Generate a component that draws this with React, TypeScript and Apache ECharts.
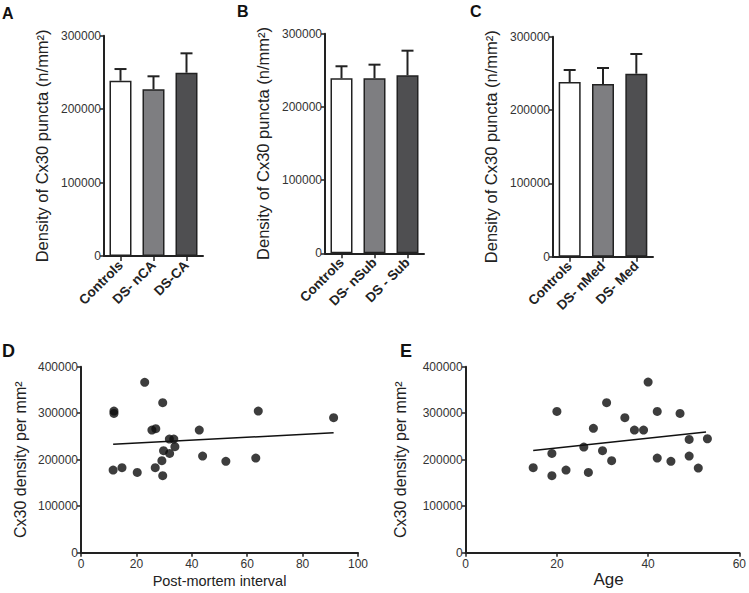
import React, { useEffect, useRef } from 'react';
import * as echarts from 'echarts';

const FONT = 'Liberation Sans, Arial, sans-serif';

// Bar panels
const catsA = ['Controls', 'DS- nCA', 'DS-CA'];
const catsB = ['Controls', 'DS- nSub', 'DS - Sub'];
const catsC = ['Controls', 'DS- nMed', 'DS- Med'];
const meanA = [238700, 227000, 249600];
const upperA = [254600, 244700, 276000];
const meanB = [239100, 239100, 243200];
const upperB = [255500, 257700, 276800];
const meanC = [238200, 235500, 249500];
const upperC = [254600, 257300, 276400];
const barColors = ['#ffffff', '#7e7e81', '#4f4f51'];

// Scatter panels
const pmiX = [11.6, 11.9, 11.9, 14.8, 20.3, 23.0, 25.6, 27.0, 26.8, 29.5, 29.2, 29.5, 29.8, 31.9, 32.0, 33.5, 33.9, 42.7, 43.9, 52.3, 63.1, 64.0, 91.2];
const pmiY = [177800, 304600, 299600, 182800, 172700, 366300, 263800, 266700, 182800, 322600, 197800, 165600, 219300, 244400, 213600, 244400, 227900, 263800, 207900, 196400, 203600, 304600, 290300];
const ageX = [14.8, 18.9, 18.9, 20.0, 22.0, 25.9, 26.9, 28.0, 30.0, 30.9, 32.0, 34.9, 37.0, 39.0, 40.0, 42.0, 42.0, 45.0, 47.0, 49.0, 49.0, 51.0, 53.0];
const ageY = [182800, 213600, 165600, 303900, 177800, 227200, 172700, 267400, 219300, 322600, 197800, 290300, 263800, 263800, 367000, 303900, 203600, 196400, 299600, 243700, 207900, 182100, 245100];
const pmiFitX = [11.6, 91.2];
const pmiFitY = [233000, 258000];
const ageFitX = [14.8, 52.7];
const ageFitY = [220000, 259500];

const INK = '#222222';
const LABEL = '#333333';
const plain = (v: number) => String(v);

function barYAxis(gridIndex: number) {
  return {
    type: 'value', gridIndex, min: 0, max: 300000, interval: 100000,
    name: 'Density of Cx30 puncta (n/mm\u00B2)', nameLocation: 'middle', nameGap: 54,
    nameTextStyle: { fontSize: 16.5, color: INK, fontFamily: FONT },
    axisLine: { show: true, lineStyle: { color: INK, width: 2 } },
    axisTick: { show: true, length: 4, lineStyle: { color: INK, width: 1.5 } },
    axisLabel: { fontSize: 12, color: LABEL, fontFamily: FONT, margin: 3, formatter: plain },
    splitLine: { show: false },
  };
}
function barXAxis(gridIndex: number, cats: string[]) {
  return {
    type: 'category', gridIndex, data: cats,
    axisLine: { show: true, lineStyle: { color: INK, width: 2 } },
    axisTick: { show: true, alignWithLabel: true, length: 5, lineStyle: { color: INK, width: 1.5 } },
    axisLabel: { rotate: 45, interval: 0, fontSize: 13.5, fontWeight: 'bold', color: INK, fontFamily: FONT, margin: 7 },
    splitLine: { show: false },
  };
}
function barSeries(idx: number, means: number[]) {
  return {
    type: 'bar', xAxisIndex: idx, yAxisIndex: idx, barWidth: 22,
    data: means.map((v, i) => ({ value: v, itemStyle: { color: barColors[i] } })),
    itemStyle: { borderColor: INK, borderWidth: 1.5 },
    z: 2,
  };
}
function errSeries(idx: number, means: number[], uppers: number[]) {
  return {
    type: 'custom', xAxisIndex: idx, yAxisIndex: idx, z: 3,
    encode: { x: 0, y: [1, 2] },
    data: means.map((m, i) => [i, m, uppers[i]]),
    renderItem: (_p: any, api: any) => {
      const base = api.coord([api.value(0), api.value(1)]);
      const top = api.coord([api.value(0), api.value(2)]);
      const hw = 6;
      return {
        type: 'group',
        children: [
          { type: 'line', shape: { x1: base[0], y1: base[1], x2: top[0], y2: top[1] }, style: { stroke: INK, lineWidth: 2 } },
          { type: 'line', shape: { x1: top[0] - hw, y1: top[1], x2: top[0] + hw, y2: top[1] }, style: { stroke: INK, lineWidth: 2 } },
        ],
      };
    },
  };
}
function scatYAxis(gridIndex: number, gap: number) {
  return {
    type: 'value', gridIndex, min: 0, max: 400000, interval: 100000,
    name: 'Cx30 density per mm\u00B2', nameLocation: 'middle', nameGap: gap,
    nameTextStyle: { fontSize: 16, color: INK, fontFamily: FONT },
    axisLine: { show: true, lineStyle: { color: INK, width: 2 } },
    axisTick: { show: true, length: 4, lineStyle: { color: INK, width: 1.5 } },
    axisLabel: { fontSize: 12, color: LABEL, fontFamily: FONT, margin: 3, formatter: plain },
    splitLine: { show: false },
  };
}
function scatXAxis(gridIndex: number, max: number, name: string, gap: number, size: number, shift: number) {
  return {
    type: 'value', gridIndex, min: 0, max, interval: 20,
    name, nameLocation: 'middle', nameGap: gap,
    nameTextStyle: { fontSize: size, color: INK, fontFamily: FONT, padding: [0, 0, 0, shift] },
    axisLine: { show: true, lineStyle: { color: INK, width: 2 } },
    axisTick: { show: true, length: 4, lineStyle: { color: INK, width: 1.5 } },
    axisLabel: { fontSize: 12, color: LABEL, fontFamily: FONT, margin: 5, formatter: plain },
    splitLine: { show: false },
  };
}

export default function App() {
  const ref = useRef<HTMLDivElement>(null);
  useEffect(() => {
    if (!ref.current) return;
    const chart = echarts.init(ref.current, undefined, { renderer: 'svg' });
    const letter = (t: string, x: number, y: number, size: number) => ({
      type: 'text', left: x, top: y,
      style: { text: t, fontSize: size, fontWeight: 'bold', fill: '#111', fontFamily: FONT },
    });
    chart.setOption({
      animation: false,
      backgroundColor: '#ffffff',
      grid: [
        { left: 104, top: 35.7, width: 99, height: 220.3 },
        { left: 325, top: 33.7, width: 99, height: 219.6 },
        { left: 553, top: 36.7, width: 100, height: 220 },
        { left: 81, top: 366.7, width: 277, height: 186 },
        { left: 465.7, top: 366.7, width: 277.6, height: 186 },
      ],
      xAxis: [
        barXAxis(0, catsA), barXAxis(1, catsB), barXAxis(2, catsC),
        scatXAxis(3, 100, 'Post-mortem interval', 21, 14.5, 0),
        scatXAxis(4, 60, 'Age', 16, 17, 12),
      ],
      yAxis: [barYAxis(0), barYAxis(1), barYAxis(2), scatYAxis(3, 53), scatYAxis(4, 57)],
      series: [
        barSeries(0, meanA), errSeries(0, meanA, upperA),
        barSeries(1, meanB), errSeries(1, meanB, upperB),
        barSeries(2, meanC), errSeries(2, meanC, upperC),
        {
          type: 'scatter', xAxisIndex: 3, yAxisIndex: 3, symbolSize: 9,
          itemStyle: { color: '#0d0d0d' }, data: pmiX.map((x, i) => [x, pmiY[i]]),
        },
        {
          type: 'line', xAxisIndex: 3, yAxisIndex: 3, symbol: 'none',
          lineStyle: { color: '#111', width: 1.5 }, data: pmiFitX.map((x, i) => [x, pmiFitY[i]]),
        },
        {
          type: 'scatter', xAxisIndex: 4, yAxisIndex: 4, symbolSize: 9,
          itemStyle: { color: '#0d0d0d' }, data: ageX.map((x, i) => [x, ageY[i]]),
        },
        {
          type: 'line', xAxisIndex: 4, yAxisIndex: 4, symbol: 'none',
          lineStyle: { color: '#111', width: 1.5 }, data: ageFitX.map((x, i) => [x, ageFitY[i]]),
        },
      ],
      graphic: [
        letter('A', 2, 5, 16),
        letter('B', 237, 3, 16),
        letter('C', 470, 3, 16),
        letter('D', 2, 342, 18),
        letter('E', 400, 342, 18),
      ],
    });
    return () => chart.dispose();
  }, []);
  return <div ref={ref} style={{ position: 'fixed', left: 0, top: 0, width: 749, height: 593, background: '#fff' }} />;
}
